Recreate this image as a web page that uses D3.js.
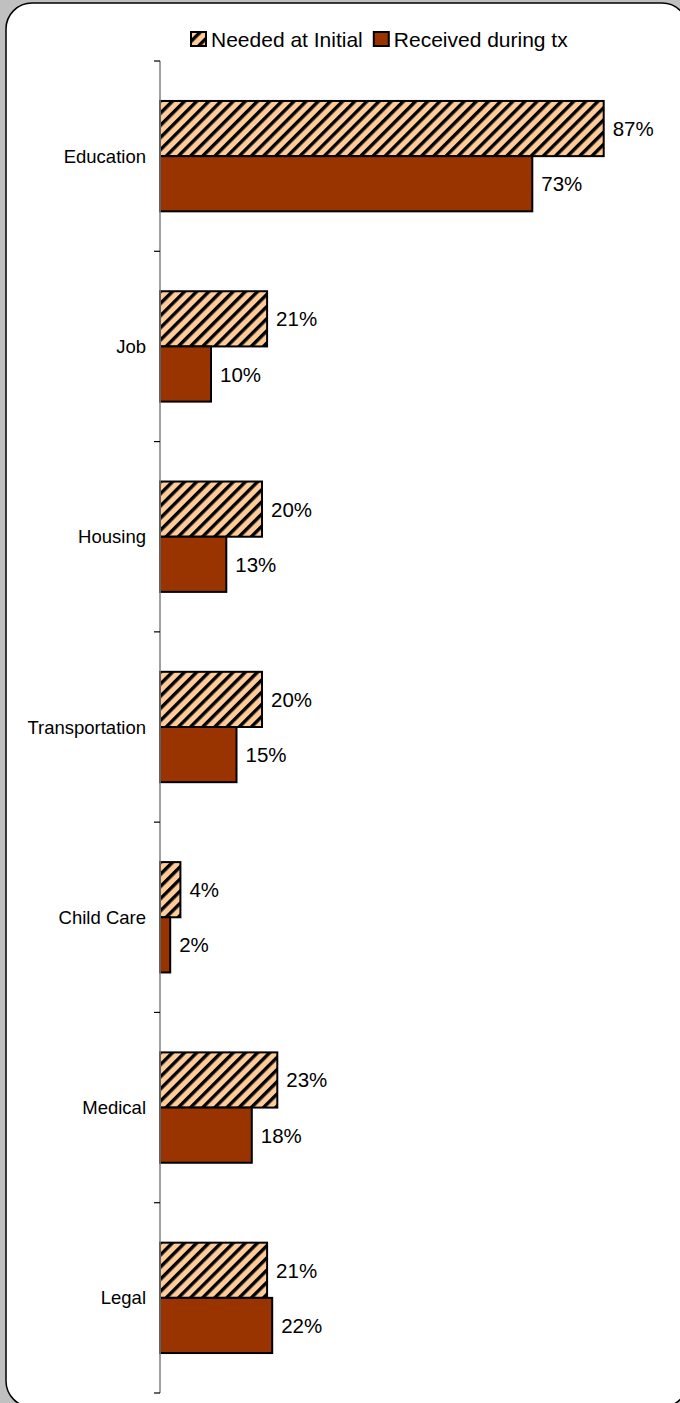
<!DOCTYPE html>
<html>
<head>
<meta charset="utf-8">
<script src="https://cdn.jsdelivr.net/npm/d3@7"></script>
<style>
  html, body { margin: 0; padding: 0; background: #c0c0c0; }
  svg { display: block; }
  text { font-family: "Liberation Sans", Arial, sans-serif; fill: #000; }
</style>
</head>
<body>
<svg id="chart" width="680" height="1403"></svg>
<script>
// カテゴリと系列データ
const categories = ['Education', 'Job', 'Housing', 'Transportation', 'Child Care', 'Medical', 'Legal']
const neededAtInitial = [0.87, 0.21, 0.20, 0.20, 0.04, 0.23, 0.21]
const receivedDuringTx = [0.73, 0.10, 0.13, 0.15, 0.02, 0.18, 0.22]
const seriesNames = ['Needed at Initial', 'Received during tx']

const svg = d3.select('#chart')

// 背景の角丸パネル
svg.append('rect')
  .attr('x', 6)
  .attr('y', 3)
  .attr('width', 682)
  .attr('height', 1404)
  .attr('rx', 26)
  .attr('ry', 26)
  .attr('fill', '#fff')
  .attr('stroke', '#000')
  .attr('stroke-width', 1.5)

// 斜線パターン
const defs = svg.append('defs')
const pattern = defs.append('pattern')
  .attr('id', 'hatch')
  .attr('patternUnits', 'userSpaceOnUse')
  .attr('width', 8.6)
  .attr('height', 8.6)
  .attr('patternTransform', 'rotate(45)')
pattern.append('rect')
  .attr('width', 8.6)
  .attr('height', 8.6)
  .attr('fill', '#ffcc99')
pattern.append('rect')
  .attr('x', 0)
  .attr('width', 3.4)
  .attr('height', 8.6)
  .attr('fill', '#000')

const fills = ['url(#hatch)', '#993300']

const plotLeft = 160
const plotTop = 61
const plotBottom = 1393

const x = d3.scaleLinear()
  .domain([0, 1])
  .range([plotLeft, plotLeft + 510])

const y0 = d3.scaleBand()
  .domain(categories)
  .range([plotTop, plotBottom])
  .paddingInner(0.42)
  .paddingOuter(0.21)

const y1 = d3.scaleBand()
  .domain(seriesNames)
  .range([0, y0.bandwidth()])

const rows = categories.map((c, i) => ({
  category: c,
  values: [neededAtInitial[i], receivedDuringTx[i]]
}))

// 棒
const group = svg.append('g')
  .selectAll('g.cat')
  .data(rows)
  .enter()
  .append('g')
  .attr('class', 'cat')
  .attr('transform', d => `translate(0,${y0(d.category)})`)

const bars = group.selectAll('g.bar')
  .data(d => d.values.map((v, k) => ({ name: seriesNames[k], value: v, k })))
  .enter()
  .append('g')
  .attr('class', 'bar')

bars.append('rect')
  .attr('x', x(0))
  .attr('y', d => y1(d.name))
  .attr('width', d => x(d.value) - x(0))
  .attr('height', y1.bandwidth())
  .attr('fill', d => fills[d.k])
  .attr('stroke', '#000')
  .attr('stroke-width', 2)

bars.append('text')
  .attr('x', d => x(d.value) + 9)
  .attr('y', d => y1(d.name) + y1.bandwidth() / 2)
  .attr('dominant-baseline', 'central')
  .attr('font-size', '20.5px')
  .text(d => d3.format('.0%')(d.value))

// 縦軸
const axis = svg.append('g')
axis.append('line')
  .attr('x1', plotLeft)
  .attr('x2', plotLeft)
  .attr('y1', plotTop)
  .attr('y2', plotBottom)
  .attr('stroke', '#808080')
  .attr('stroke-width', 1.5)

const tickYs = d3.range(categories.length + 1).map(i => plotTop + i * y0.step())
axis.selectAll('line.tick')
  .data(tickYs)
  .enter()
  .append('line')
  .attr('class', 'tick')
  .attr('x1', plotLeft - 6)
  .attr('x2', plotLeft)
  .attr('y1', d => d)
  .attr('y2', d => d)
  .attr('stroke', '#000')
  .attr('stroke-width', 1.2)

axis.selectAll('text.label')
  .data(categories)
  .enter()
  .append('text')
  .attr('class', 'label')
  .attr('x', plotLeft - 14)
  .attr('y', d => y0(d) + y0.bandwidth() / 2)
  .attr('text-anchor', 'end')
  .attr('dominant-baseline', 'central')
  .attr('font-size', '18.5px')
  .text(d => d)

// 凡例
const legend = svg.append('g').attr('transform', 'translate(191,39)')
let lx = 0
seriesNames.forEach((name, k) => {
  legend.append('rect')
    .attr('x', lx)
    .attr('y', -7)
    .attr('width', 15)
    .attr('height', 14)
    .attr('fill', fills[k])
    .attr('stroke', '#000')
    .attr('stroke-width', 2)
  const t = legend.append('text')
    .attr('x', lx + 20)
    .attr('y', 0)
    .attr('dominant-baseline', 'central')
    .attr('font-size', '21px')
    .text(name)
  lx += 20 + t.node().getComputedTextLength() + 11
})
</script>
</body>
</html>
